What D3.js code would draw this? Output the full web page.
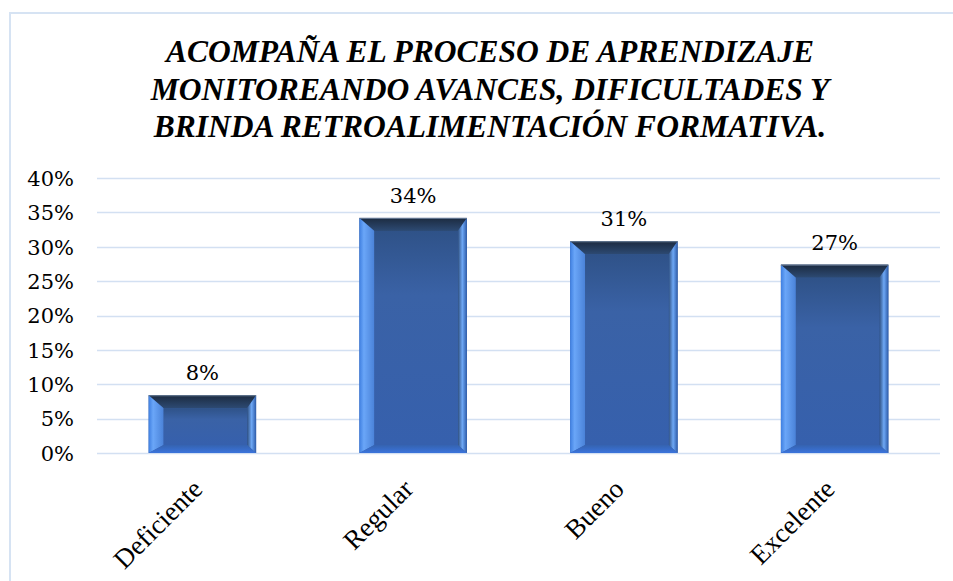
<!DOCTYPE html>
<html><head><meta charset="utf-8">
<script src="https://cdn.jsdelivr.net/npm/d3@7"></script>
<style>body{margin:0;background:#fff;}svg{display:block;}</style>
</head><body>
<svg id="c" width="953" height="581"></svg>
<script>
const categories = ["Deficiente", "Regular", "Bueno", "Excelente"];
const values = [0.084, 0.342, 0.308, 0.274];
const valueLabels = ["8%", "34%", "31%", "27%"];
const yTicks = [0, 0.05, 0.10, 0.15, 0.20, 0.25, 0.30, 0.35, 0.40];
const titleLines = ["ACOMPAÑA EL PROCESO DE APRENDIZAJE", "MONITOREANDO AVANCES, DIFICULTADES Y", "BRINDA RETROALIMENTACIÓN FORMATIVA."];

const svg = d3.select("#c");
const m = {left: 97, right: 940, top: 178, bottom: 453};
const SERIF = "Liberation Serif";
const NUMF = "DejaVu Serif";

// border
svg.append("rect").attr("x", 10).attr("y", 13).attr("width", 960).attr("height", 600)
  .attr("fill", "none").attr("stroke", "#d6e3f3").attr("stroke-width", 2);

// title
svg.append("g").selectAll("text").data(titleLines).join("text")
  .attr("x", 490).attr("y", (d, i) => 62 + i * 37.5)
  .attr("text-anchor", "middle")
  .attr("font-family", SERIF)
  .attr("font-weight", "bold").attr("font-style", "italic")
  .attr("font-size", 31.5).attr("fill", "#000").text(d => d);

const x = d3.scaleBand().domain(categories).range([m.left, m.right]).paddingInner(0.49).paddingOuter(0.245);
const y = d3.scaleLinear().domain([0, 0.40]).range([m.bottom, m.top]);

// gridlines
svg.append("g").selectAll("line").data(yTicks).join("line")
  .attr("x1", m.left).attr("x2", m.right)
  .attr("y1", d => Math.round(y(d)) + 0.5).attr("y2", d => Math.round(y(d)) + 0.5)
  .attr("stroke", "#d3e0f2").attr("stroke-width", 1.5);

// y axis labels
const yAxis = d3.axisLeft(y).tickValues(yTicks).tickFormat(d3.format(".0%")).tickSize(0).tickPadding(0);
const ya = svg.append("g").attr("transform", `translate(74,0)`).call(yAxis);
ya.select(".domain").remove();
ya.selectAll("text").attr("font-family", NUMF).attr("font-size", 21).attr("fill", "#000").attr("dy", "0.35em");

// gradients
const defs = svg.append("defs");
function lg(id, x1, y1, x2, y2, stops) {
  const g = defs.append("linearGradient").attr("id", id).attr("x1", x1).attr("y1", y1).attr("x2", x2).attr("y2", y2);
  stops.forEach(s => g.append("stop").attr("offset", s[0]).attr("stop-color", s[1]));
}
lg("gTop", 0, 0, 0, 1, [[0, "#1c2b40"], [1, "#2d4a73"]]);
lg("gLeft", 0, 0, 1, 0, [[0, "#3f7fe0"], [0.3, "#6aa6f8"], [1, "#4a82d8"]]);
lg("gRight", 0, 0, 1, 0, [[0, "#2e4f80"], [0.5, "#6ea8f5"], [1, "#2d5ba8"]]);
lg("gBot", 0, 0, 0, 1, [[0, "#3563b0"], [1, "#3b74dc"]]);
lg("gFace", 0, 0, 0, 1, [[0, "#2f5288"], [0.3, "#3a62a6"], [1, "#3660ad"]]);

const bevL = 15, bevR = 9, bevT = 13, bevB = 8;
const bars = svg.append("g").selectAll("g").data(categories.map((c, i) => ({c, v: values[i], l: valueLabels[i]}))).join("g");
bars.each(function(d) {
  const g = d3.select(this);
  const x0 = x(d.c), x1 = x0 + x.bandwidth(), y0 = y(d.v), y1 = y(0);
  const bt = Math.min(bevT, (y1 - y0) / 3), bb = Math.min(bevB, (y1 - y0) / 4);
  const ix0 = x0 + bevL, ix1 = x1 - bevR, iy0 = y0 + bt, iy1 = y1 - bb;
  g.append("rect").attr("x", x0).attr("y", y0).attr("width", x1 - x0).attr("height", y1 - y0).attr("fill", "url(#gFace)");
  g.append("polygon").attr("points", [[x0, y0], [x1, y0], [ix1, iy0], [ix0, iy0]].join(" ")).attr("fill", "url(#gTop)");
  g.append("polygon").attr("points", [[x0, y0], [ix0, iy0], [ix0, iy1], [x0, y1]].join(" ")).attr("fill", "url(#gLeft)");
  g.append("polygon").attr("points", [[x1, y0], [x1, y1], [ix1, iy1], [ix1, iy0]].join(" ")).attr("fill", "url(#gRight)");
  g.append("polygon").attr("points", [[x0, y1], [ix0, iy1], [ix1, iy1], [x1, y1]].join(" ")).attr("fill", "url(#gBot)");
  g.append("rect").attr("x", ix0).attr("y", iy0).attr("width", ix1 - ix0).attr("height", iy1 - iy0).attr("fill", "url(#gFace)");
  g.append("line").attr("x1", x0).attr("x2", x1).attr("y1", y0 + 0.5).attr("y2", y0 + 0.5).attr("stroke", "#6b7f99").attr("stroke-width", 1);
  g.append("text").attr("x", (x0 + x1) / 2).attr("y", y0 - 15).attr("text-anchor", "middle")
    .attr("font-family", NUMF).attr("font-size", 21).attr("fill", "#000").text(d.l);
});

// category labels
const xa = svg.append("g").attr("transform", `translate(0,${m.bottom})`).call(d3.axisBottom(x).tickSize(0).tickPadding(0));
xa.select(".domain").remove();
xa.selectAll("text")
  .attr("font-family", SERIF).attr("font-size", 27).attr("fill", "#000")
  .attr("text-anchor", "end").attr("dy", "0.35em")
  .attr("transform", "translate(-5,31) rotate(-45)");
</script>
</body></html>
